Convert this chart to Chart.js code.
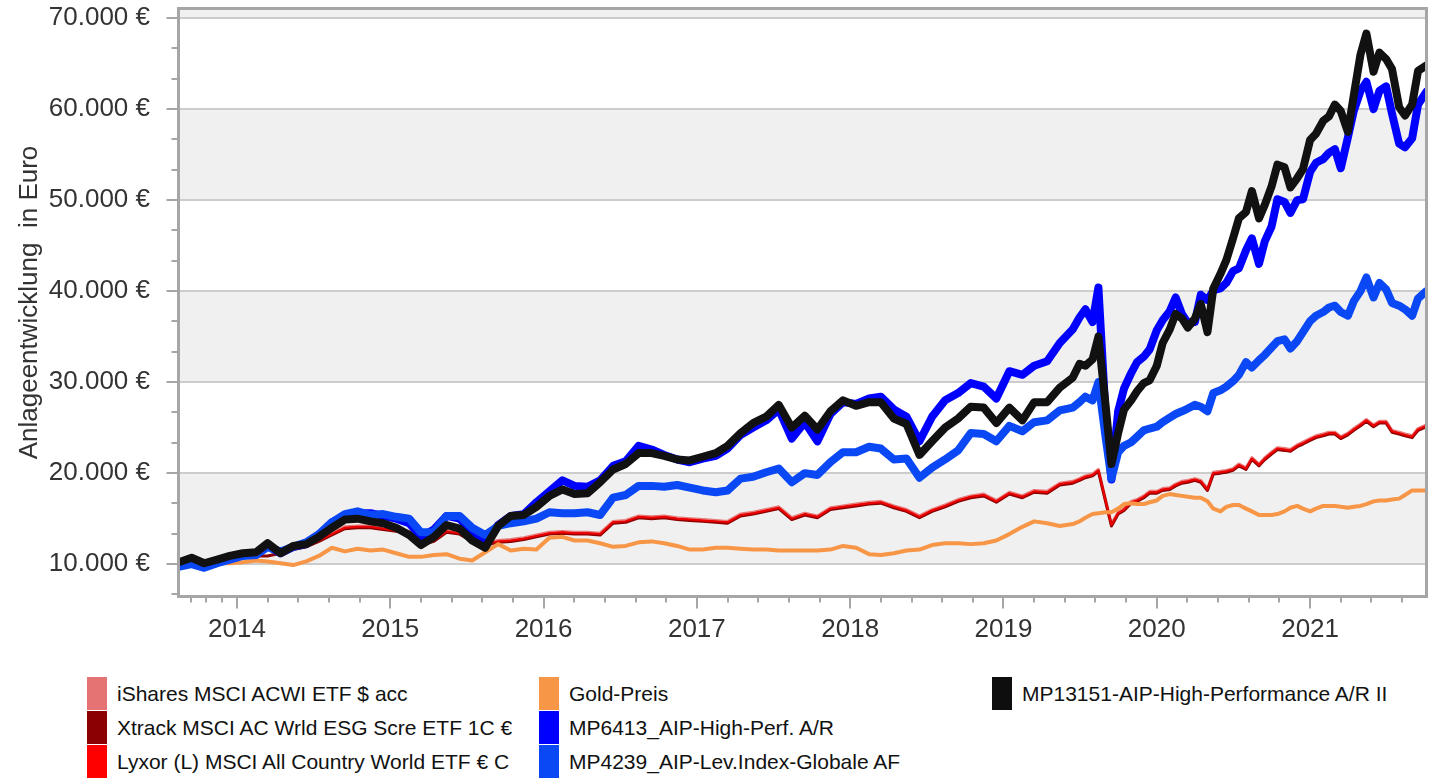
<!DOCTYPE html>
<html>
<head>
<meta charset="utf-8">
<script src="https://cdn.jsdelivr.net/npm/chart.js@4.4.1/dist/chart.umd.min.js"></script>
<style>
  body { margin: 0; background: #fff; font-family: "Liberation Sans", Arial, sans-serif; }
  #wrap { position: relative; width: 1436px; height: 780px; overflow: hidden; }
  #chart { position: absolute; left: 0; top: 0; }
  .item { position: absolute; height: 34px; line-height: 34px; font-size: 21px; color: #111; white-space: nowrap; }
  .box { position: absolute; left: 0; top: 0; width: 20px; height: 33px; }
  .item span { position: absolute; left: 30px; top: 0; }
</style>
</head>
<body>
<div id="wrap">
  <canvas id="chart" width="1436" height="660" style="width:1436px;height:660px"></canvas>
  <div id="legend"></div>
</div>
<script>
// Stichtage: monatlich bis Mitte 2019, danach halbmonatlich
const dates = [
  '2013-08-15','2013-09-15','2013-10-15','2013-11-15','2013-12-15',
  '2014-01-15','2014-02-15','2014-03-15','2014-04-15','2014-05-15','2014-06-15','2014-07-15','2014-08-15','2014-09-15','2014-10-15','2014-11-15','2014-12-15',
  '2015-01-15','2015-02-15','2015-03-15','2015-04-15','2015-05-15','2015-06-15','2015-07-15','2015-08-15','2015-09-15','2015-10-15','2015-11-15','2015-12-15',
  '2016-01-15','2016-02-15','2016-03-15','2016-04-15','2016-05-15','2016-06-15','2016-07-15','2016-08-15','2016-09-15','2016-10-15','2016-11-15','2016-12-15',
  '2017-01-15','2017-02-15','2017-03-15','2017-04-15','2017-05-15','2017-06-15','2017-07-15','2017-08-15','2017-09-15','2017-10-15','2017-11-15','2017-12-15',
  '2018-01-15','2018-02-15','2018-03-15','2018-04-15','2018-05-15','2018-06-15','2018-07-15','2018-08-15','2018-09-15','2018-10-15','2018-11-15','2018-12-15',
  '2019-01-15','2019-02-15','2019-03-15','2019-04-15','2019-05-15','2019-06-15',
  '2019-07-01','2019-07-15','2019-08-01','2019-08-15','2019-09-01','2019-09-15','2019-10-01','2019-10-15','2019-11-01','2019-11-15','2019-12-01','2019-12-15',
  '2020-01-01','2020-01-15','2020-02-01','2020-02-15','2020-03-01','2020-03-15','2020-04-01','2020-04-15','2020-05-01','2020-05-15','2020-06-01','2020-06-15',
  '2020-07-01','2020-07-15','2020-08-01','2020-08-15','2020-09-01','2020-09-15','2020-10-01','2020-10-15','2020-11-01','2020-11-15','2020-12-01','2020-12-15',
  '2021-01-01','2021-01-15','2021-02-01','2021-02-15','2021-03-01','2021-03-15','2021-04-01','2021-04-15','2021-05-01','2021-05-15','2021-06-01','2021-06-15',
  '2021-07-01','2021-07-15','2021-08-01','2021-08-15','2021-09-01','2021-09-15',
  '2021-10-05'
];

const ishares = [
  10000,10400,10000,10300,10600,
  11000,11100,11900,11400,11800,12100,12700,13400,14100,14200,14200,14000,
  13800,13600,12300,12700,13700,13500,12700,12300,12600,12700,12900,13200,
  13500,13600,13500,13500,13400,14700,14800,15300,15200,15300,15100,15000,
  14900,14800,14700,15500,15700,16000,16300,15100,15600,15300,16200,16400,
  16600,16800,16900,16400,16000,15300,16000,16500,17100,17500,17700,17000,
  17900,17500,18100,18000,18900,19100,
  19400,19700,19900,20400,17100,14400,15700,16100,16900,17100,17500,18000,
  18000,18300,18400,18800,19100,19200,19400,19200,18300,20100,20200,20300,
  20500,21000,20600,21700,21000,21700,22300,22800,22700,22600,23100,23400,
  23800,24100,24300,24500,24500,24000,24400,24900,25400,25900,25300,25700,
  25700,24700,24500,24300,24100,24900,
  25300
];
const xtrack = [
  9900,10300,9900,10200,10500,
  10800,10900,10900,11200,11600,11900,12500,13200,13900,14000,14000,13800,
  13600,13400,12100,12500,13500,13300,12500,12100,12400,12500,12700,13000,
  13300,13400,13300,13300,13200,14500,14600,15100,15000,15100,14900,14800,
  14700,14600,14500,15300,15500,15800,16100,14900,15400,15100,16000,16200,
  16400,16600,16700,16200,15800,15100,15800,16300,16900,17300,17500,16800,
  17700,17300,17900,17800,18700,18900,
  19200,19500,19700,20200,16900,14200,15500,15900,16700,16900,17300,17800,
  17800,18100,18200,18600,18900,19000,19200,19000,18100,19900,20000,20100,
  20300,20800,20400,21500,20800,21500,22100,22600,22500,22400,22900,23200,
  23600,23900,24100,24300,24300,23800,24200,24700,25200,25700,25100,25500,
  25500,24500,24300,24100,23900,24700,
  25100
];
const lyxor = [
  10000,10400,10000,10300,10600,
  10900,11000,11800,11300,11700,12000,12600,13300,14000,14100,14100,13900,
  13700,13500,12200,12600,13600,13400,12600,12200,12500,12600,12800,13100,
  13400,13500,13400,13400,13300,14600,14700,15200,15100,15200,15000,14900,
  14800,14700,14600,15400,15600,15900,16200,15000,15500,15200,16100,16300,
  16500,16700,16800,16300,15900,15200,15900,16400,17000,17400,17600,16900,
  17800,17400,18000,17900,18800,19000,
  19300,19600,19800,20300,17000,14300,15600,16000,16800,17000,17400,17900,
  17900,18200,18300,18700,19000,19100,19300,19100,18200,20000,20100,20200,
  20400,20900,20500,21600,20900,21600,22200,22700,22600,22500,23000,23300,
  23700,24000,24200,24400,24400,23900,24300,24800,25300,25800,25200,25600,
  25600,24600,24400,24200,24000,24800,
  25200
];
const gold = [
  10100,10100,10000,10100,10100,
  10200,10400,10300,10100,9900,10300,10900,11800,11400,11700,11500,11600,
  11200,10800,10800,11000,11100,10600,10400,11300,12200,11500,11700,11600,
  12900,13000,12600,12600,12300,11900,12000,12400,12500,12300,12000,11600,
  11600,11800,11800,11700,11600,11600,11500,11500,11500,11500,11600,12000,
  11800,11100,11000,11200,11500,11600,12100,12300,12300,12200,12300,12600,
  13300,14100,14700,14500,14200,14400,
  14700,15100,15500,15600,15700,15700,16100,16600,16700,16600,16600,16800,
  17000,17500,17700,17600,17500,17400,17300,17300,16900,16100,15800,16300,
  16500,16500,16100,15800,15400,15400,15400,15500,15800,16200,16400,16100,
  15800,16100,16400,16400,16400,16300,16200,16300,16400,16600,16900,17000,
  17000,17100,17200,17600,18100,18100,
  18100
];
const mp6413 = [
  9800,10200,9700,10200,10600,
  11000,11000,12000,11200,11900,12200,13200,14600,15300,15600,15600,15300,
  15000,14500,13000,13800,15300,15000,13600,12500,14300,15300,15500,16800,
  18000,19200,18600,18500,19200,20800,21300,23000,22600,22000,21500,21200,
  21600,21900,22700,24200,25000,25800,27000,23800,25600,23500,26500,27800,
  27600,28200,28400,27000,26200,23500,26200,28000,28800,29900,29500,28200,
  31200,30800,31800,32300,34300,35800,
  37100,38000,36600,40400,26500,19300,26800,29300,31000,32200,32800,33600,
  35700,36800,37800,39300,37500,36500,36600,39600,39000,40100,40300,40900,
  42200,42500,44500,45800,43000,45500,47100,50100,49800,48600,50000,50100,
  53100,54100,54500,55200,55600,53500,56900,59800,62000,63000,60000,62000,
  62500,59500,56200,55800,56800,60500,
  61900
];
const mp4239 = [
  9700,10000,9600,10100,10500,
  10900,11000,11900,11400,11900,12400,13300,14600,15500,15800,15400,15500,
  15200,15000,13500,13500,15300,15300,14000,13200,14200,14500,14700,15000,
  15700,15600,15600,15700,15400,17300,17600,18600,18600,18500,18700,18400,
  18100,17900,18100,19400,19600,20100,20500,19000,20000,19800,21200,22300,
  22300,22900,22700,21500,21600,19500,20600,21500,22500,24400,24300,23500,
  25200,24600,25600,25800,26900,27200,
  27800,28400,28000,30000,24000,19400,22300,23000,23400,24000,24700,24900,
  25100,25600,26100,26500,26800,27100,27500,27300,26800,28800,29100,29500,
  30100,30800,32200,31600,32400,33000,33800,34500,34700,33700,34500,35500,
  36700,37300,37700,38200,38400,37700,37300,38900,40000,41500,39300,40900,
  40200,38700,38400,38000,37300,39200,
  40000
];
const mp13151 = [
  10200,10700,10100,10500,10900,
  11200,11300,12300,11200,12000,12200,13000,14000,14900,15000,14700,14500,
  14000,13200,12100,13000,14300,13900,12600,11800,14200,15300,15400,16300,
  17500,18200,17700,17800,19000,20400,21000,22200,22200,21900,21500,21400,
  21800,22200,23000,24400,25500,26200,27500,25000,26300,24800,26800,28000,
  27400,27800,27800,26000,25400,22000,23500,25000,26000,27300,27200,25500,
  27200,25800,27800,27800,29400,30500,
  32000,31800,32500,35000,27500,21000,24400,27000,28000,29000,29900,30200,
  31800,34300,35800,37500,37000,36000,37000,38600,35500,40300,41900,43400,
  45800,48000,48700,51000,48000,49500,51500,53900,53600,51400,52400,53400,
  56600,57300,58700,59200,60500,59800,57500,61500,66000,68300,64100,66200,
  65500,64400,60200,59300,60500,64200,
  64800
];

const seriesNames = [
  'iShares MSCI ACWI ETF $ acc',
  'Xtrack MSCI AC Wrld ESG Scre ETF 1C €',
  'Lyxor (L) MSCI All Country World ETF € C',
  'Gold-Preis',
  'MP6413_AIP-High-Perf. A/R',
  'MP4239_AIP-Lev.Index-Globale AF',
  'MP13151-AIP-High-Performance A/R II'
];
const seriesValues = [ishares, xtrack, lyxor, gold, mp6413, mp4239, mp13151];
const yearTicks = [2014, 2015, 2016, 2017, 2018, 2019, 2020, 2021];
const euroTicks = [10000, 20000, 30000, 40000, 50000, 60000, 70000];

const lineColors = ['#e87a7a', '#8b0000', '#ee0000', '#f79646', '#0000ff', '#0a48f5', '#111111'];
const boxColors  = ['#e57373', '#8b0000', '#ff0000', '#f79646', '#0000ff', '#0a48f5', '#0e0e0e'];
const lineWidths = [3, 3, 2, 4, 8, 8, 8];

function yearFraction(s) {
  const [y, m, d] = s.split('-').map(Number);
  const t = Date.UTC(y, m - 1, d), a = Date.UTC(y, 0, 1), b = Date.UTC(y + 1, 0, 1);
  return y + (t - a) / (b - a);
}
const xs = dates.map(yearFraction);

function euro(v) {
  return String(v).replace(/\B(?=(\d{3})+(?!\d))/g, '.') + ' €';
}
const near = (a, b) => Math.abs(a - b) < 1e-6;

const X_MIN = 2013.622, X_MAX = 2021.756;
const Y_MIN = 6500, Y_MAX = 71000;
const grayBands = [[10000, 20000], [30000, 40000], [50000, 60000], [70000, 80000]];

const decor = {
  id: 'decor',
  beforeDraw(chart) {
    const { ctx, chartArea: a, scales: { y } } = chart;
    ctx.save();
    ctx.fillStyle = '#f0f0f0';
    for (const [lo, hi] of grayBands) {
      const top = y.getPixelForValue(Math.min(hi, Y_MAX));
      const bot = y.getPixelForValue(Math.max(lo, Y_MIN));
      ctx.fillRect(a.left, top, a.right - a.left, bot - top);
    }
    ctx.restore();
  },
  afterDatasetsDraw(chart) {
    const { ctx, chartArea: a, scales: { x, y } } = chart;
    ctx.save();
    ctx.strokeStyle = '#a6a6a6';
    ctx.lineWidth = 2;
    ctx.beginPath();
    for (const t of y.ticks) {
      const py = Math.round(y.getPixelForValue(t.value));
      const len = t.major ? 11 : 6;
      ctx.moveTo(a.left - 1.5 - len, py);
      ctx.lineTo(a.left, py);
    }
    for (const t of x.ticks) {
      const px = Math.round(x.getPixelForValue(t.value));
      const len = t.major ? 11 : 5;
      ctx.moveTo(px, a.bottom);
      ctx.lineTo(px, a.bottom + 1.5 + len);
    }
    ctx.stroke();
    ctx.lineWidth = 3;
    ctx.strokeRect(a.left - 0.5, a.top - 0.5, a.right - a.left + 1, a.bottom - a.top + 1);
    ctx.restore();
  }
};

const fontFamily = '"Liberation Sans", Arial, sans-serif';

new Chart(document.getElementById('chart'), {
  type: 'line',
  data: {
    datasets: seriesValues.map((vals, i) => ({
      label: seriesNames[i],
      data: vals.map((v, k) => ({ x: xs[k], y: v })),
      borderColor: lineColors[i],
      borderWidth: lineWidths[i],
      pointRadius: 0,
      tension: 0,
      borderJoinStyle: 'round',
      borderCapStyle: 'round',
      order: seriesValues.length - i
    }))
  },
  options: {
    responsive: false,
    animation: false,
    devicePixelRatio: 1,
    layout: { padding: { top: 9, right: 10, left: 0, bottom: 0 } },
    plugins: { legend: { display: false }, tooltip: { enabled: false } },
    scales: {
      x: {
        type: 'linear',
        min: X_MIN,
        max: X_MAX,
        afterBuildTicks(scale) {
          const vals = [2013.7, 2013.8, 2013.9];
          for (const yr of yearTicks) {
            for (const f of [0, 0.2, 0.4, 0.6, 0.8]) {
              if (yr + f <= X_MAX) vals.push(yr + f);
            }
          }
          scale.ticks = vals.map(v => ({ value: v, major: yearTicks.some(t => near(t, v)) }));
        },
        afterFit(scale) {
          scale.height = 64;
          scale.paddingLeft = 0;
          scale.paddingRight = 0;
        },
        grid: { display: false, drawTicks: false },
        border: { display: false },
        ticks: {
          autoSkip: false,
          maxRotation: 0,
          padding: 18,
          color: '#333',
          font: { family: fontFamily, size: 26 },
          callback: v => {
            const t = yearTicks.find(yr => near(yr, v));
            return t === undefined ? '' : String(t);
          }
        }
      },
      y: {
        min: Y_MIN,
        max: Y_MAX,
        afterBuildTicks(scale) {
          const vals = [];
          for (let v = 10000 - 10000 / 3; v < Y_MAX; v += 10000 / 3) vals.push(v);
          scale.ticks = vals.map(v => ({ value: v, major: euroTicks.some(t => near(t, v)) }));
        },
        afterFit(scale) {
          scale.width = 179;
          scale.paddingTop = 0;
          scale.paddingBottom = 0;
        },
        grid: {
          drawTicks: false,
          color: c => (c.tick && c.tick.major ? '#cccccc' : 'rgba(0,0,0,0)'),
          lineWidth: 2
        },
        border: { display: false },
        ticks: {
          autoSkip: false,
          padding: 29,
          color: '#333',
          font: { family: fontFamily, size: 26 },
          callback: v => {
            const t = euroTicks.find(e => near(e, v));
            return t === undefined ? '' : euro(t);
          }
        },
        title: {
          display: true,
          text: 'Anlageentwicklung  in Euro',
          color: '#333',
          font: { family: fontFamily, size: 26 },
          padding: { top: 14, bottom: 0 }
        }
      }
    }
  },
  plugins: [decor]
});

// Legende in drei Spalten
const legendEl = document.getElementById('legend');
const colLeft = [87, 539, 992];
seriesNames.forEach((name, i) => {
  const item = document.createElement('div');
  item.className = 'item';
  item.style.left = colLeft[Math.floor(i / 3)] + 'px';
  item.style.top = (677 + (i % 3) * 34) + 'px';
  const box = document.createElement('div');
  box.className = 'box';
  box.style.background = boxColors[i];
  const label = document.createElement('span');
  label.textContent = name;
  item.appendChild(box);
  item.appendChild(label);
  legendEl.appendChild(item);
});
</script>
</body>
</html>
